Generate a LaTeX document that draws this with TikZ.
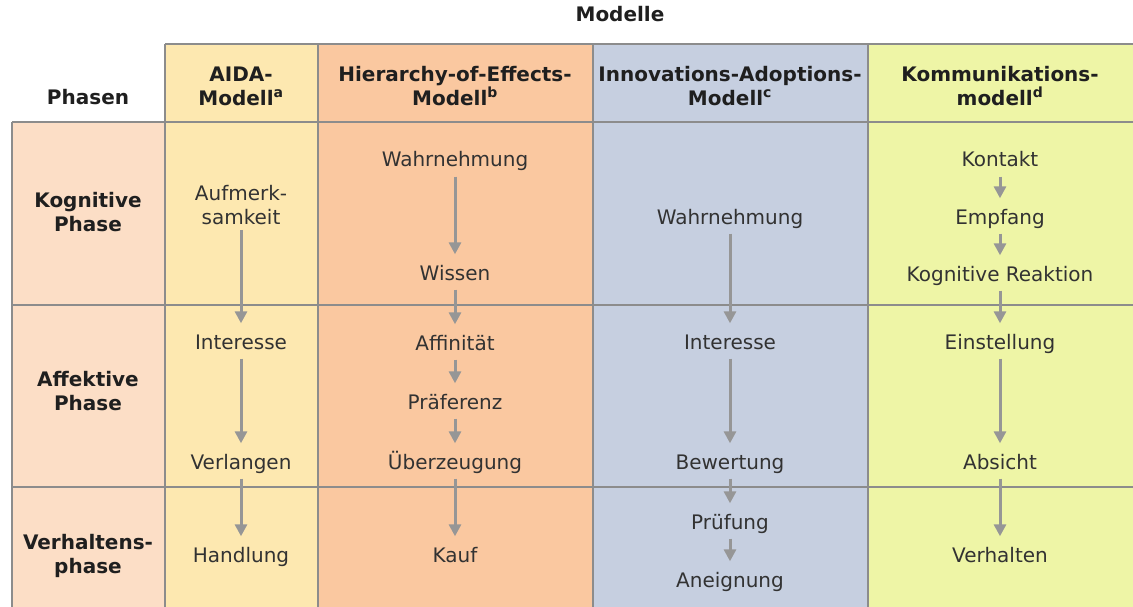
\documentclass[tikz,border=0pt]{standalone}
\usepackage{fontspec}
\setmainfont{DejaVu Sans}
\usetikzlibrary{arrows.meta}
\definecolor{phasecol}{RGB}{252,222,198}
\definecolor{aidacol}{RGB}{253,232,176}
\definecolor{hoecol}{RGB}{250,200,160}
\definecolor{innocol}{RGB}{198,207,224}
\definecolor{kommcol}{RGB}{238,245,166}
\definecolor{gridcol}{RGB}{140,140,140}
\definecolor{arrcol}{RGB}{150,150,150}
\definecolor{txtcol}{RGB}{50,50,50}
\begin{document}
\begin{tikzpicture}[x=1pt,y=-1pt,
  item/.style={font=\fontsize{20}{24}\selectfont, text=txtcol, inner sep=0pt, text height=14.5pt, text depth=4.5pt},
  multi/.style={font=\fontsize{20}{24}\selectfont, text=txtcol, inner sep=0pt, align=center},
  head/.style={font=\bfseries\fontsize{20}{24}\selectfont, text=black!88, align=center, inner sep=0pt},
  flow/.style={draw=arrcol, line width=3pt, -{Triangle[width=12pt,length=12pt]}},
  grid/.style={draw=gridcol, line width=1.2pt}]
\useasboundingbox (0,0) rectangle (1133,607);
\fill[white] (0,0) rectangle (1133,607);

% column backgrounds
\fill[phasecol] (12,122) rectangle (165,607);
\fill[aidacol]  (165,44) rectangle (318,607);
\fill[hoecol]   (318,44) rectangle (593,607);
\fill[innocol]  (593,44) rectangle (868,607);
\fill[kommcol]  (868,44) rectangle (1133,607);

% table rules
\draw[grid] (165,44) -- (1133,44);
\draw[grid] (12,122) -- (1133,122);
\draw[grid] (12,305) -- (1133,305);
\draw[grid] (12,487) -- (1133,487);
\draw[grid] (12,122) -- (12,607);
\foreach \x in {165,318,593,868} \draw[grid] (\x,44) -- (\x,607);

% headings
\node[head] (modelle) at (620,14) {Modelle};
\node[head] (phasen) at (88,97) {Phasen};
\node[head] (hAIDA) at (241,86) {AIDA-\\Modell\textsuperscript{a}};
\node[head] (hHoE)  at (455,86) {Hierarchy-of-Effects-\\Modell\textsuperscript{b}};
\node[head] (hInno) at (730,86) {Innovations-Adoptions-\\Modell\textsuperscript{c}};
\node[head] (hKomm) at (1000,86) {Kommunikations-\\modell\textsuperscript{d}};

% phase labels
\node[head] (pKog) at (88,212) {Kognitive\\Phase};
\node[head] (pAff) at (88,391) {Affektive\\Phase};
\node[head] (pVer) at (88,556) {Verhaltens-\\phase};

% AIDA model
\node[multi] (aufm) at (241,205) {Aufmerk-\\samkeit};
\node[item] (int1) at (241,344) {Interesse};
\node[item] (verl) at (241,464) {Verlangen};
\node[item] (hand) at (241,557) {Handlung};

% Hierarchy-of-Effects model
\node[item] (wahr1) at (455,162) {Wahrnehmung};
\node[item] (wiss)  at (455,275) {Wissen};
\node[item] (affi)  at (455,345) {Affinität};
\node[item] (praf)  at (455,404) {Präferenz};
\node[item] (uber)  at (455,464) {Überzeugung};
\node[item] (kauf)  at (455,557) {Kauf};

% Innovation adoption model
\node[item] (wahr2) at (730,219) {Wahrnehmung};
\node[item] (int2)  at (730,344) {Interesse};
\node[item] (bew)   at (730,464) {Bewertung};
\node[item] (pruf)  at (730,524) {Prüfung};
\node[item] (aneig) at (730,582) {Aneignung};

% Communication model
\node[item] (kont)  at (1000,162) {Kontakt};
\node[item] (empf)  at (1000,219) {Empfang};
\node[item] (kogr)  at (1000,276) {Kognitive Reaktion};
\node[item] (einst) at (1000,344) {Einstellung};
\node[item] (absi)  at (1000,464) {Absicht};
\node[item] (verh)  at (1000,557) {Verhalten};

% flow arrows
\foreach \a/\b in {aufm/int1, int1/verl, verl/hand,
                   wahr1/wiss, wiss/affi, affi/praf, praf/uber, uber/kauf,
                   wahr2/int2, int2/bew, bew/pruf, pruf/aneig,
                   kont/empf, empf/kogr, kogr/einst, einst/absi, absi/verh}
  \draw[flow] ([yshift=-5pt]\a.south) -- ([yshift=11pt]\b.north);
\end{tikzpicture}
\end{document}
